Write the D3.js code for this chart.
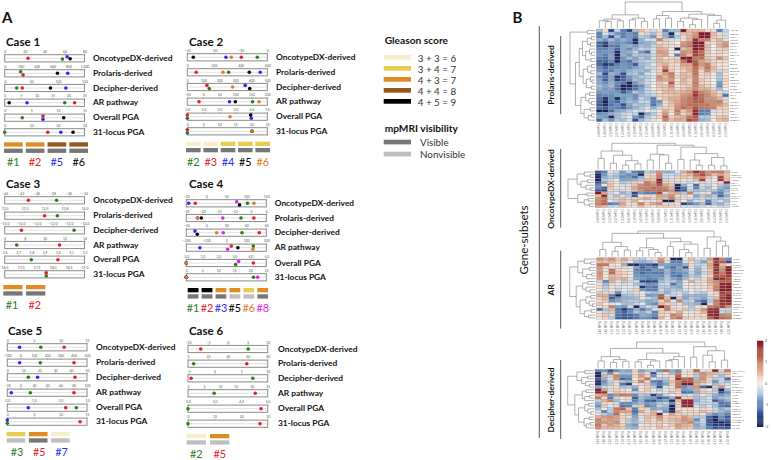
<!DOCTYPE html>
<html>
<head>
<meta charset="utf-8">
<script src="https://cdn.jsdelivr.net/npm/d3@7"></script>
<style>
body { margin: 0; background: #fff; }
text { font-family: Lato, "Open Sans", sans-serif; fill: #111; }
</style>
</head>
<body>
<script>
// ---- panel A data
var trackNames = ["OncotypeDX-derived", "Prolaris-derived", "Decipher-derived", "AR pathway", "Overall PGA", "31-locus PGA"];
var dotColors = ["#2f7a1c", "#e0202a", "#2a2af5", "#000000", "#e07b27", "#dd22e6"];

var gleasonNames = ["3 + 3 = 6", "3 + 4 = 7", "4 + 3 = 7", "4 + 4 = 8", "4 + 5 = 9"];
var gleasonColors = ["#f7efcb", "#e8cc50", "#e08c22", "#96561c", "#000000"];
var mriNames = ["Visible", "Nonvisible"];
var mriColors = ["#777777", "#bfbfbf"];

var case1Samples = ["#1", "#2", "#5", "#6"];
var case1Gleason = [2, 2, 3, 3];
var case1Mri = [0, 0, 0, 0];
var case1Ticks = [[0,20,40,60,80],[0,200,400,600,800,1000],[0,50,100,150],[0,5,10,15,20,25],[0,5,10,15],[0,10,20,30]];
var case1Values = [[57.9,200,22.6,18.8,3.3,0],[23.4,230,33,21.9,7.2,16.2],[62.6,790,115,7,7.2,21.1],[65.6,661,86,1.4,11.1,25.7]];
var case1Lanes = [[0.5,-1,0,0,0,0],[0,1,0,0,-1,0],[-1,0,0,0,1,0],[0.3,0,0,0,0,0]];

var case2Samples = ["#2", "#3", "#4", "#5", "#6"];
var case2Gleason = [0, 0, 1, 1, 1];
var case2Mri = [0, 0, 0, 0, 0];
var case2Ticks = [[-30,-20,-10,0],[0,200,400,600],[0,100,200,300,400,500],[-50,0,50,100,150,200],[0,1,2,3,4,5],[0,5,10,15,20,25]];
var case2Values = [[-3.75,310,137,154,0,0],[-9.75,67,123,-13.5,0,0],[-15.5,547,362,82,4,20.2],[-27.75,465,390,100,3.96,20.2],[-13.5,267,283,174,2.67,20.2]];
var case2Lanes = [[0,0,1,0,1,1],[0,0,-1,0,-1,-1],[0,0,-1,0,1,0],[0,0,1,0,-1,0],[0,0,0,0,0,0]];

var case3Samples = ["#1", "#2"];
var case3Gleason = [2, 2];
var case3Mri = [0, 0];
var case3Ticks = [[-44,-42,-40,-38,-36,-34],[13,13.25,13.5,13.75,14],[-15,-14,-13,-12,-11,-10],[6,8,10,12,14],[2.6,2.7,2.8,2.9,3,3.1,3.2],[16.5,17,17.5,18,18.5,19]];
var case3Values = [[-37.5,13.66,-10.65,7.2,2.8,17.8],[-41.03,13.5,-13.95,11.5,3,17.8]];
var case3Lanes = [[0,0,0,0,0,1],[0,0,0,0,0,-1]];

var case4Samples = ["#1", "#2", "#3", "#5", "#6", "#8"];
var case4Gleason = [4, 4, 2, 2, 1, 2];
var case4Mri = [0, 0, 0, 1, 1, 0];
var case4Ticks = [[-50,0,50,100,150],[-25,-20,-15,-10,-5,0],[-20,0,20,40,60],[-200,-100,0,100,200],[0,1,2,3,4,5],[0,5,10,15,20,25]];
var case4Values = [[103,-7.9,35.7,135,3.08,21],[-27.5,-3.9,53,25,4.19,0],[-44,-21.5,-11.3,-132,0,0],[83,-20.3,-9,58,0,0],[119,-21.5,10.3,133,0,0],[76,-13.6,17,6.7,3.27,22.3]];
var case4Lanes = [[0,0,0,-1,1,0],[0,0,0,-1,0,0],[0,0,-1,0,0,0],[1,0,1,0,0,0],[0,0,0,1,0,0],[-1,0,0,1,-1,0]];

var case5Samples = ["#3", "#5", "#7"];
var case5Gleason = [1, 2, 0];
var case5Mri = [1, 0, 1];
var case5Ticks = [[0,5,10,15],[-100,0,100,200,300,400,500],[0,10,20,30,40,50],[-20,0,20,40,60,80,100],[0,1,2,3],[0,5,10,15]];
var case5Values = [[6.3,148,13.2,14.7,2.6,0],[10.7,402,42.5,80.4,2.2,13.7],[2.3,-7,19,-14,0.79,0]];
var case5Lanes = [[0,0,0,0,0,1],[0,0,0,0,0,0],[0,0,0,0,0,-1]];

var case6Samples = ["#2", "#5"];
var case6Gleason = [0, 2];
var case6Mri = [1, 1];
var case6Ticks = [[-10,-5,0,5,10],[0,20,40,60,80],[-5,0,5,10],[0,5,10,15,20,25],[0,2,4,6],[0,10,20,30]];
var case6Values = [[5.1,5.7,7.2,8.2,0,0],[-6.8,59,-4.4,21.1,5.5,27.1]];
var case6Lanes = [[0,0,0,0,0,0],[0,0,0,0,0,0]];

// ---- panel B data
var colLabels = ["2.44 MP03","1.48 MP03","3.12 MP03","2.07 MP03","1.33 MP03","4.21 MP03","2.19 MP03","3.40 MP03","1.05 MP03","2.62 MP03","4.08 MP03",
  "3.27 MP03","1.71 MP03","2.36 MP03","4.52 MP03","3.09 MP03","1.16 MP03","2.85 MP03","3.58 MP03","4.13 MP03","1.94 MP03","2.30 MP03"];

var prolarisGenes = ["ASF1B","CDCA8","PLK1","MKI67","CDC20","FOXM1","KIF11","PTTG1","CDKN3","TK1","TPX2","BIRC5","CEP55","DLGAP5","RRM2","PBK","BUB1B","NUSAP1","ORC6","RAD51","KIAA0101","SKA1","PRC1","KIF20A","CENPM","TOP2A","DTL","ASPM","CENPF","RAD54L"];
var oncotypeGenes = ["KLK2","SRD5A2","FAM13C","AZGP1","GSN","GSTM2","FLNC","TPM2","BGN","COL1A1","SFRP4","TPX2","ARF1","ATP5E"];
var arGenes = ["KLK3","KLK2","FKBP5","NKX3-1","TMPRSS2","ZBTB10","NNMT","ABCC4","ACSL3","ELL2","HERC3","PMEPA1","TMEPAI","GNMT","MED28","NDRG1","STK39","C1orf116","MAF","IQGAP2","SPDEF","PTGER4"];
var decipherGenes = ["GLYATL1P4","PBX1","CAMK2N1","EPPK1","IQGAP3","LASP1","RABGAP1","PCAT32","MYBPC1","NFIB","S1PR4","TSBP","THBS2","ANO7","PCDH7","ZWILCH","UBE2C","NUSAP1","TNFRSF19","PCAT80","KCNQ1","MMP9"];

var prolarisHeat = [
[-.5,.2,-1.5,-.3,-1,-1.5,-.5,.5,.2,-.2,.2,-1,-.5,-.5,2,.5,.5,.5,.2,.2,-1,-.3],
[-1,-.2,-.5,-.8,-1,-.8,-1,.2,-.3,-.5,.2,-.6,-1.8,-.2,.5,.5,.8,2,2,.5,.2,-.2],
[-1,-.5,-1.5,-.5,-1,-.8,-1,-.4,-.5,-.8,.2,-.6,-1.2,-.4,.2,.6,.9,2,2,.4,-.2,-.2],
[-.6,-.8,-.5,-.8,-.6,-.8,-1.8,-.6,-.2,-.2,1,.4,-.2,-.2,.2,.6,1.8,1,1,.3,.6,.2],
[-1.2,-1.5,-.8,-.9,-.8,-1,-1.8,-.7,-.6,-.5,.2,.3,.2,0,.8,1,2,2,.3,.2,.5,.8],
[-1.2,-1.7,-1,-1.1,-.7,-.6,-.8,-.5,-.6,-.3,.5,.3,.2,.2,.9,1.1,1.9,1.8,.5,0,.6,.9],
[-1,-1,-.8,-1.2,-.7,-.9,-.6,-.3,-.4,-.2,.6,.5,.1,-1.9,.5,.7,2,1.8,.4,0,.3,.4],
[-.9,-.8,-.8,-1.8,-.7,-.6,-.3,-.8,-1.2,-.2,.8,.7,.1,.1,.9,.8,1.7,1.2,.4,.1,.3,.2],
[-.8,-1,-.7,-1.9,-.6,-.8,-.4,-.5,-.5,-.3,.6,.7,-.1,-1,1,.5,1.6,1.3,.3,-.1,.2,.1],
[-1,-1.1,-.7,-1.8,-.8,-.5,-.7,-.4,-.6,-.2,.5,.2,.3,.3,2,2,1.1,1.2,.4,.2,.9,.4],
[-1.2,-1.2,-.9,-1.9,-.9,-1.1,-.6,-.4,-.3,-.3,.5,.4,.3,.4,1.1,1.9,1.3,.7,.5,.3,.2,.2],
[-1.2,-1.7,-1.5,-1,-.8,-.9,-1.3,-.5,-.4,-.1,.4,.6,.2,.2,.7,.7,1.4,.8,1,.3,.1,.1],
[-.9,-1.2,-.9,-.9,-.8,-.9,-.7,-.6,-.3,-.3,.3,.9,.3,.2,.5,.6,1.2,.6,1.1,.5,.2,.1],
[-.8,-1,-1,-.7,-.8,-.6,-.5,-.5,-.6,-.2,.3,1.6,.4,.1,.3,.6,1.1,.3,.9,.4,-.3,.3],
[-.5,-1.5,-.6,-.7,-1.4,-.5,-.4,-.7,-.2,-.1,.4,.8,1.1,.2,.5,.4,1.2,.2,.4,.1,-.5,.1],
[-.9,-1.1,-.7,-1.7,-1.3,-.8,-.6,-.4,-.4,-.2,.9,.5,1,.3,.5,.5,1,.2,.3,.1,-.4,.2],
[-.7,-1.3,-.7,-1.6,-1.2,-.9,-.5,-.6,-.3,-.1,.8,.7,.8,.1,.6,.3,1,.4,.2,0,-.5,.3],
[-.7,-.9,-.6,-.9,-1.1,-1.9,-.8,-.5,-.2,-.1,.4,.2,1.4,.2,.5,.3,1.1,.3,.2,0,-.8,.2],
[-.5,-.7,-.5,-1,-1.9,-1.9,-1.2,-.9,-.4,0,.4,.4,.8,.1,.3,.4,1,.5,.3,.1,-.9,.1],
[-.6,-.8,-.7,-1.1,-1.9,-1.5,-1.1,-.7,-.3,.1,.3,.4,.6,.2,.4,.6,.9,.6,.6,.3,-.5,0],
[-.8,-.7,-.8,-.8,-1.3,-.9,-.4,-.6,-.3,-.2,.2,.5,.5,.5,.6,.7,1.6,1,.8,.5,.2,-.3],
[-1,-.9,-.9,-.7,-.7,-.7,-.9,-.5,-.4,-.3,.3,.3,.4,.5,.8,.9,1.7,1.2,.9,.6,.3,-1.1],
[-1.1,-1.7,-.9,-1.8,-.8,-.6,-.8,-.3,-.5,-1,.2,.4,.6,.6,.9,1.1,1.4,1.2,.8,.8,.5,-.2],
[-1.2,-1.9,-1,-1.2,-.7,-.5,-.6,-.3,-.3,-1,-.8,.2,.5,.7,1,1.1,1.3,1.3,.9,.9,1,.3],
[-1.3,-1.8,-1.1,-.9,-1.4,-.7,-.4,-.5,-.4,-1.1,-.6,.2,.4,.8,1,1.2,1.2,1.1,1.1,.9,.8,.5],
[-1.1,-1.3,-.9,-1,-1.2,-.8,-.6,-.4,-.2,-.6,-.3,.3,.3,.9,1.2,1,1.4,1.1,1.1,1,.4,.3],
[-1.9,-1.9,-1.2,-.7,-.6,-.4,-.2,-.3,.1,-.2,.1,.6,.3,1.1,.4,.8,1.8,-1,-1,-.2,.2,.3],
[-.9,-.8,-.6,-.5,-.3,-.2,-.3,-1.8,-.7,-.4,.2,.8,.1,.9,.3,.6,1.9,-1,-.9,-.1,.1,.2],
[-.7,-.8,-1.8,-.5,-.3,-.1,-.8,-1.2,-.4,-.2,.3,1.3,.3,.5,.6,1.1,1.4,-.4,-.4,.1,.4,.5],
[-1.2,-.5,-.8,-.4,-.5,-.2,-1.4,-.6,-.3,.2,.1,1,.5,.7,.6,1.5,1.3,-.6,-.5,.1,.5,.6]
];

var oncotypeHeat = [
[-1.3,-1,.2,-.3,-.8,-.4,-1,-1.2,-.4,-.5,.9,-.6,-.6,-.2,.7,1,1.8,1.3,.9,1,1.1,.6],
[-1.9,-.8,-.2,-.4,-.7,-.9,-.8,-1.9,.2,.2,1,-.2,-.2,-.3,.3,.5,1.1,1.6,.9,.4,.7,.3],
[-1.9,-.6,-.4,-.5,-.9,-.8,-1.2,-.6,.2,.3,1,-.2,-.1,.3,.4,.3,.8,.9,.4,-.1,1.5,.4],
[-1.9,-.4,-.3,-.1,-.7,-.7,-.6,-.4,.5,.4,1.9,-.3,-.2,.2,.2,-.2,.5,1.6,.2,-.1,1.7,.5],
[-1.4,-.7,.3,.1,-.4,-.3,.3,.2,1.1,.7,1.9,.3,.2,-.2,-.1,-.2,-.1,.3,-.1,.1,.2,2],
[-1,.1,.5,.1,-.2,.2,.4,.9,1.1,.9,1.4,.7,.4,-1.8,-.6,-.1,-1.2,-.2,-.3,.1,-.4,-.6],
[-.9,-1.2,.4,.2,-.1,-.2,.7,1,1,1.2,1.1,1,.6,-1.9,-1.1,-.2,-1,-.3,-.5,-.1,-.6,-.8],
[-1.4,-1.5,.2,-.2,-.2,.1,.5,.9,1.2,1.1,1.2,1.2,.8,-1.6,-1.3,-.3,-.5,-.4,-.3,-.4,-.8,-.5],
[2,.7,-.3,.1,-.6,-.4,-1.5,-.8,-1,-1,1.5,-.2,.6,.7,-.4,1,-.3,.2,.2,-.8,-1,-.4],
[.5,1.8,-.2,-.5,-.2,-.4,-1.3,.1,.2,.2,.7,.7,.9,.2,.3,.1,-.7,-.4,-.6,-.4,-1.2,-.6],
[.8,1.1,.2,.3,.4,.2,.3,.4,.6,.3,.5,.4,1,-.3,.1,.2,-.4,-.2,-.3,-.2,-.5,-.3],
[.9,1.2,-.1,-.3,.5,.3,.6,.1,.2,-.2,.4,-1.9,-1.8,.4,.1,-.6,-.2,.3,-1,-.4,-.2,-.5],
[1,1.3,-1,-.9,.7,.1,.2,1,.3,.7,.9,.2,.3,.1,-1.6,-1.1,-.8,-.5,-1.3,-.4,-.6,-.3],
[.7,.5,-.3,-.2,.4,.2,.1,.5,.2,.1,.3,.3,.2,.2,-.2,-.2,-.3,-.2,-.1,-.1,-.3,-.2]
];

var arHeat = [
[.9,.6,.9,.4,.7,.3,-.3,-.4,-.1,.2,.8,.2,-1.9,-1.9,.1,.5,-.2,-.3,.8,1.8,1,-.9],
[.5,.4,.6,.3,.4,.1,-.5,-.6,-.5,-.3,1,-.2,-1,-1,-.2,.3,-.4,-.7,.5,1.6,1.3,-1.4],
[1.1,1.1,.2,.1,-.6,-1.7,-1.8,-1.2,-1.3,-1.6,-.7,-.7,-.8,-.9,-.6,.2,-.3,-.3,.7,1.9,.5,.2],
[.8,.2,.1,.2,.2,-.1,-.7,-1.3,-.9,-1.1,-.2,-.8,-1.2,-.7,-1.4,-.1,-.5,.1,.6,1.6,.7,1.9],
[.7,.1,1.1,.3,.1,.1,-1,-1.1,-1.2,-.8,-.9,-.5,-.9,-.8,-.6,-.2,-.6,-.2,.4,1.8,.9,2],
[.9,.2,1.2,.4,.3,-.1,-.9,-1.2,-1,-1.1,-1,-.6,-1,-.9,-.8,-.3,-.7,-.3,.5,1.7,1.1,1.8],
[.8,.1,.5,.4,.2,.1,-.8,-.9,-.9,-.8,-.9,-.5,-1,-1.2,-.7,-.4,-.5,-.1,.3,1.4,1.3,1.7],
[.7,.2,.6,.5,.6,.2,-.7,-.8,-1,-.9,-.7,-.4,-.7,-.9,-.5,-.2,-.3,.2,.6,1.9,1.8,1.4],
[-.2,-1,.6,-.1,-.4,-.2,-.2,-1.5,-1.6,-1.5,-.5,-.3,-.4,-.7,.1,.6,.2,.2,.6,.9,1.3,1.3],
[.1,-.5,-.2,.1,-.2,-.1,-.5,-.6,-.9,-.8,-.3,-.2,-1.1,-.6,.1,.1,-.2,.1,.5,.8,1.9,1.9],
[.2,-.4,.2,-.2,.1,.1,-.2,-1.7,-1,-1.1,-.4,-.4,-.6,-.7,-.1,.2,-.1,.2,.4,1,1.9,2],
[.1,-.3,.1,-.3,-.1,-.2,.3,-.8,-1,-1,-.3,-.5,-.4,-.5,-.2,.1,-.2,.1,.3,1.1,2,2],
[.4,-.2,.3,-.9,-.2,-.3,.2,.1,-.4,-.5,-.4,-.6,-.3,-.2,-.4,-.1,-.3,-.4,.1,.3,1.6,1.4],
[.6,.6,-1,-1.9,-.5,-.4,-.3,-.1,-.8,-.7,1.3,-.2,-.3,.2,-.6,-.5,-.6,-.6,-.2,.2,1.4,1.9],
[.3,.5,-1.3,-.8,-.6,-.6,-.5,.1,-.3,-.5,1.4,.5,-1.9,-.4,-.7,-.4,-.5,-.7,-.3,.5,1.6,2],
[.2,.4,-.9,-.7,-.5,-.4,-.4,-.5,-.7,-.6,.3,.8,.2,1,-.4,-.3,-.9,-1.2,-.4,1.1,1.8,1.9],
[.4,.1,-.2,-.1,-.5,-.5,-.3,-.1,-.7,-.9,.5,.3,-.3,-.2,-.5,-.5,-.6,-1.9,-.2,1,1.7,1.7],
[.2,.3,1,-.7,-.8,-.2,-1.9,-.5,-.2,-.4,2,1,.2,.1,.2,-.4,.1,.1,1,1.2,1.5,.9],
[-1.2,-.4,.5,-1.1,-1.8,-1.1,-.6,-1.1,-.7,-.1,.2,1.1,.3,.2,.4,-.3,.3,.8,1.8,1.9,-.2,-.2],
[.1,-.3,.4,-1,-1.3,-.9,-.4,-.6,-.3,-1,.3,.3,.2,.6,-.1,-.1,.2,.6,1.8,1.9,-.3,-.4],
[.2,.4,-.2,-1.1,-1.3,-1.2,-1,-.6,-.7,-.9,.3,.2,1,.8,.1,.1,.2,.2,1.8,1.9,1,.9],
[.1,.3,-.4,-1.2,-1.4,-1.3,-1.1,-.8,-.9,-1.2,.6,.1,.9,1.2,.4,.3,.2,.3,1.3,1.8,1.2,1.1]
];

var decipherHeat = [
[-1,-.8,-1.4,-.9,-.6,-.7,.3,-.7,-.5,-.4,-.8,1.2,-.6,-.9,.1,.2,1.3,-.1,.2,1.9,.3,1.1],
[-1.9,-.3,-.9,.3,-.5,-.5,.2,.6,.2,-1.4,-.2,-.1,-.5,1,.1,.1,.5,.9,.6,.5,-.3,.4],
[-1.9,.6,.4,1,-.8,-.8,.3,.8,.3,-.9,-.1,.2,.2,1.3,.1,.2,-.4,.8,.5,-.2,-.5,.3],
[-1.3,-.6,-.2,.9,-1.2,-1,.1,.5,1.1,-.2,-.4,-.4,.2,1.8,1.2,1.3,-.5,.9,.3,-.4,-.3,-1.2],
[-1.9,-.9,-.3,.2,-.4,-.6,.3,1,.2,-1,-1.2,-.5,.4,1,1.5,1.4,.7,.6,.2,-.9,-.2,-.5],
[-1.8,-.7,-.4,.1,-1.1,-1.7,.1,.3,.4,-.7,-1.1,-.7,.3,1.1,2,2,.6,.3,.1,-.5,-.3,-.2],
[-.7,-.3,.2,.2,-.5,-.4,-.6,-.1,.3,-.4,-1.4,-.2,.2,1.2,-.9,-.6,.8,-1.2,-1.7,.4,.8,.1],
[2,.7,-.2,.3,.2,.1,-.9,.1,.4,.1,-.4,-.1,-.2,.4,-.8,-.7,.7,.3,.1,-.4,-1.9,-.5],
[1.9,1.7,.1,.4,.3,.2,-.3,.3,.2,-.1,.1,.1,.4,.2,-1.2,-1.1,-.6,.4,.3,-.3,-1.4,-.9],
[.6,.8,-.9,.9,1.1,1,-.9,-.4,-.5,-1.6,-.8,-.3,-.1,.2,-.3,-.2,-.4,.1,-.3,-.6,-.8,-.6],
[1.1,.3,-1,-.3,-.1,.3,-1.3,-.5,-.7,-.8,-1.4,-1.1,-.6,1.8,.3,.4,-.5,-.4,-.2,-.7,-.5,-.4],
[-.3,.6,1,-.5,.1,-.2,-1,-.6,-1.2,-1.3,-.9,-.7,-1.8,.5,1.9,1.9,-.6,-.3,-.2,-1.3,-.9,-.6],
[-.6,.2,.1,-.2,-.9,-.9,-.7,-.5,-.8,-.7,-.4,-.3,-.9,.2,2,2,-.3,-.3,-.3,-.4,-1.1,-1],
[-.8,.4,-.1,.3,-1.1,-1,-.3,.4,-1,-.8,-.3,-.5,-1.9,.3,1.8,1.9,-.2,-.4,-.2,-.5,-1,-1.2],
[-.5,.1,-.4,1.1,1.3,.4,-1,.3,.3,-.7,-.6,-.7,-1.9,.2,.2,.2,.1,.3,.2,-.3,-.6,-.4],
[-.1,-1,-.3,1,.7,.7,-1.2,.7,.1,.5,-.1,-.9,-1.9,.5,.1,.2,.2,.5,.3,-.3,-.5,-.7],
[.2,-.4,-.6,1.2,.2,.4,-.9,.2,.3,.6,2,.1,.7,.3,.3,.2,.3,.1,-.6,-.9,-.7,-1],
[.6,.8,.9,.7,.3,.2,-.7,-.2,.5,.4,.9,.3,.4,.4,.8,.5,-.4,-.4,-1.2,-1.7,-.9,-1.3],
[1,.6,.8,.7,.2,-.4,-.6,-.1,.4,.2,.7,.3,.5,.6,.9,.7,-.9,-.3,-1.3,-1.9,-1,-1.2],
[.9,.8,.7,.9,.1,-.3,-.5,-.2,.3,.2,.3,.2,.3,.5,.7,.9,-.5,-.2,-1.4,-1.8,-1.9,-1.6],
[1.1,.4,.8,.6,.3,-.6,-.8,.1,.2,.2,.4,.1,.4,.8,.6,.5,-.7,-.4,-1.2,-1.6,-1.5,-1.8],
[.9,.5,.6,.5,.4,-.5,-.6,.2,.3,.1,.5,.3,.2,.7,.5,.4,-.6,-.5,-1,-1.3,-1.2,-1.3]
];

// dendrograms: [merge height, left, right], 0 is a leaf
var prolarisTop = [79,
  [40,[27,[22,0,[20,0,0]],[22,0,0]],[30,[25,0,0],[20,0,0]]],
  [50,[38,[28,0,0],[30,0,0]],[42,[30,[20,0,0],[26,[10,0,0],0]],[38,0,[24,[14,0,0],0]]]]];
var prolarisSide = [79,[25,0,0],[62,
  [50,[40,[25,[12,0,0],[15,0,0]],[30,[18,0,[12,0,0]],[14,0,0]]],[38,[24,[12,0,0],[14,0,0]],[28,[15,0,[10,0,0]],[12,0,0]]]],
  [45,[30,[18,0,0],[20,0,[12,0,0]]],[35,[16,0,0],[22,[12,0,0],0]]]]];
var oncotypeTop = [82,
  [58,[35,0,0],[45,[20,0,0],[28,[14,0,0],[18,0,0]]]],
  [76,[48,[30,0,0],[46,0,[20,0,0]]],[70,[32,0,0],[50,[30,0,[14,0,0]],[38,[14,0,0],[12,0,0]]]]]];
var oncotypeSide = [80,
  [52,[30,0,[12,0,0]],[40,[20,0,0],[25,0,[10,0,0]]]],
  [50,[22,0,0],[30,[18,0,0],[14,0,0]]]];
var arTop = [86,
  [78,[48,[24,0,0],[34,[18,0,0],[22,0,0]]],[62,[30,[20,0,0],[24,0,[14,0,0]]],[50,[34,0,0],[42,[24,0,[14,0,0]],0]]]],
  [66,[28,0,0],[52,0,[36,0,0]]]];
var arSide = [80,
  [55,[35,0,[15,0,0]],[40,[20,0,0],[28,[12,0,0],0]]],
  [60,[40,[25,0,0],[30,0,[18,0,0]]],[48,[30,[15,0,0],[20,0,[10,0,0]]],[35,[14,0,0],[22,0,0]]]]];
var decipherTop = [90,
  [68,[40,[25,0,0],[30,[20,0,0],[24,0,0]]],[52,[30,[22,0,0],[25,[10,0,0],0]],[40,[30,[26,0,0],0],0]]],
  [74,[38,0,0],[60,[45,0,[22,0,0]],[28,0,0]]]];
var decipherSide = [85,
  [55,[30,0,0],[40,[20,0,0],[28,0,[15,0,0]]]],
  [62,[38,[25,0,0],[30,[14,0,0],0]],[50,[30,[18,0,0],[20,0,[10,0,0]]],[32,[16,0,0],[25,[12,0,0],0]]]]];

var colorTicks = [2, 1, 0, -1, -2];

// ---- page
var w = 772, h = 460;
var svg = d3.select("body").append("svg").attr("width", w).attr("height", h);
var heatColor = d3.scaleLinear()
    .domain([-2, -1.4, -.8, -.3, 0, .3, .8, 1.4, 2])
    .range(["#15174f", "#2f4f96", "#6e98c6", "#c3d6e8", "#f4f1ee", "#f2d1bd", "#d99677", "#b5523f", "#8b1528"])
    .clamp(true);

function addText(x, y, str, size, weight, anchor) {
  return svg.append("text").attr("x", x).attr("y", y).attr("dy", "0.35em")
    .attr("font-size", size).attr("font-weight", weight || 400)
    .attr("text-anchor", anchor || "start").text(str);
}

// one case of panel A
function drawCase(title, pos, samples, ticks, values, lanes, gleason, mri) {
  addText(pos.titleX, pos.titleY, title, 11.5, 700);
  ticks.forEach(function(tk, i) {
    var x = d3.scaleLinear().domain(d3.extent(tk)).range([pos.x0, pos.x1]);
    var cy = pos.rows[i];
    var g = svg.append("g").attr("transform", "translate(0," + cy + ")");
    g.append("rect").attr("x", pos.x0).attr("y", -3.6).attr("width", pos.x1 - pos.x0).attr("height", 7.2)
      .attr("fill", "#fff").attr("stroke", "#8a8a8a").attr("stroke-width", 1);
    g.append("line").attr("x1", pos.x0).attr("x2", pos.x1).attr("stroke", "#cfcfcf").attr("stroke-width", 0.6);
    var axis = d3.axisTop(x).tickValues(tk).tickSize(1.2).tickPadding(0.5);
    if (tk.some(function(v) { return v % 1 != 0; })) axis.tickFormat(d3.format(".1f"));
    var ag = g.append("g").attr("transform", "translate(0,-3.6)").call(axis);
    ag.select(".domain").remove();
    ag.selectAll("line").attr("stroke", "#666").attr("stroke-width", 0.4);
    ag.selectAll("text").attr("font-size", 3.4).style("fill", "#555").attr("font-family", "Lato, sans-serif");
    samples.forEach(function(s, j) {
      g.append("circle").attr("cx", x(values[j][i])).attr("cy", lanes[j][i] * 1.6).attr("r", 1.8)
        .attr("fill", dotColors[j]);
    });
    addText(pos.labelX, cy - 0.2, trackNames[i], 8.4, 700);
  });
  var band = d3.scaleBand().domain(samples)
    .range([pos.barX, pos.barX + pos.barStep * samples.length])
    .paddingInner(1 - pos.barW / pos.barStep).paddingOuter(0).align(0);
  samples.forEach(function(s, j) {
    svg.append("rect").attr("x", band(s)).attr("y", pos.barY).attr("width", band.bandwidth()).attr("height", 4.3)
      .attr("fill", gleasonColors[gleason[j]]);
    svg.append("rect").attr("x", band(s)).attr("y", pos.barY + 6.3).attr("width", band.bandwidth()).attr("height", 4.3)
      .attr("fill", mriColors[mri[j]]);
    addText(band(s) + band.bandwidth() / 2 + pos.labelShift, pos.numY, s, 10.8, 400, "middle")
      .style("fill", dotColors[j]);
  });
}

drawCase("Case 1", {titleX: 6, titleY: 42, x0: 4.7, x1: 84.5, rows: [58.3, 73.3, 88, 102.7, 117.7, 132.3], labelX: 93,
  barX: 4, barStep: 21, barW: 18, barY: 142.3, numY: 162.7, labelShift: 0}, case1Samples, case1Ticks, case1Values, case1Lanes, case1Gleason, case1Mri);
drawCase("Case 2", {titleX: 189, titleY: 42, x0: 187.3, x1: 267.3, rows: [57.3, 72.3, 87, 101.7, 116.7, 131.3], labelX: 276,
  barX: 186, barStep: 16.8, barW: 14.2, barY: 141.7, numY: 162, labelShift: 0}, case2Samples, case2Ticks, case2Values, case2Lanes, case2Gleason, case2Mri);
drawCase("Case 3", {titleX: 6, titleY: 184, x0: 4.7, x1: 84.5, rows: [200.3, 215.7, 230.3, 245, 259.7, 274.3], labelX: 93.3,
  barX: 3.3, barStep: 21, barW: 17.7, barY: 285, numY: 305.7, labelShift: -1}, case3Samples, case3Ticks, case3Values, case3Lanes, case3Gleason, case3Mri);
drawCase("Case 4", {titleX: 189, titleY: 184, x0: 186.3, x1: 266.3, rows: [203.3, 218, 232.7, 247.7, 263, 277.3], labelX: 274.7,
  barX: 187.7, barStep: 13.4, barW: 10.4, barY: 288, numY: 308, labelShift: 0}, case4Samples, case4Ticks, case4Values, case4Lanes, case4Gleason, case4Mri);
drawCase("Case 5", {titleX: 8, titleY: 331, x0: 7.3, x1: 87, rows: [347.3, 362.7, 377.3, 392.7, 407.7, 421.7], labelX: 96,
  barX: 6.7, barStep: 21, barW: 17.6, barY: 432, numY: 452.3, labelShift: 1}, case5Samples, case5Ticks, case5Values, case5Lanes, case5Gleason, case5Mri);
drawCase("Case 6", {titleX: 189, titleY: 331, x0: 188, x1: 267.7, rows: [349, 363.7, 378.3, 393.3, 408.7, 423.7], labelX: 278,
  barX: 186.7, barStep: 21.3, barW: 17.6, barY: 434, numY: 454.3, labelShift: 0}, case6Samples, case6Ticks, case6Values, case6Lanes, case6Gleason, case6Mri);

addText(2, 18, "A", 15, 700);
addText(512.5, 17.5, "B", 15, 700);

// legends
addText(384.7, 40.7, "Gleason score", 10.2, 700);
gleasonNames.forEach(function(n, i) {
  svg.append("rect").attr("x", 383.7).attr("y", 55 + i * 11).attr("width", 27.3).attr("height", 4.7).attr("fill", gleasonColors[i]);
  addText(417.7, 58.7 + i * 11, n, 9.8).style("fill", "#333");
});
addText(384.7, 128.7, "mpMRI visibility", 10.2, 700);
mriNames.forEach(function(n, i) {
  svg.append("rect").attr("x", 383.7).attr("y", 139.7 + i * 12).attr("width", 27.3).attr("height", 4.7).attr("fill", mriColors[i]);
  addText(420, 142.3 + i * 12.4, n, 9.8).style("fill", "#333");
});

// one heatmap of panel B
function dendro(tree, posScale, hScale, vertical) {
  var root = d3.hierarchy(tree, function(d) { return Array.isArray(d) ? d.slice(1) : null; });
  root.leaves().forEach(function(l, i) { l.pos = i + 0.5; });
  root.eachAfter(function(n) {
    n.h = Array.isArray(n.data) ? n.data[0] : 0;
    if (n.children) n.pos = d3.mean(n.children, function(c) { return c.pos; });
  });
  hScale.domain([0, root.h]);
  var pt = function(p, ht) {
    return vertical ? posScale(p) + "," + hScale(ht) : hScale(ht) + "," + posScale(p);
  };
  svg.append("g").selectAll("path").data(root.links()).enter().append("path")
    .attr("fill", "none").attr("stroke", "#7a7a7a").attr("stroke-width", 0.6)
    .attr("d", function(l) {
      return "M" + pt(l.source.pos, l.source.h) + "L" + pt(l.target.pos, l.source.h) + "L" + pt(l.target.pos, l.target.h);
    });
}

function drawHeat(rows, genes, topTree, sideTree, box) {
  var x = d3.scaleBand().domain(d3.range(rows[0].length)).range([box.x0, box.x1]);
  var y = d3.scaleBand().domain(d3.range(rows.length)).range([box.y0, box.y1]);
  var g = svg.append("g");
  rows.forEach(function(row, r) {
    g.selectAll("rect.r" + r).data(row).enter().append("rect").attr("class", "r" + r)
      .attr("x", function(d, c) { return x(c); }).attr("y", y(r))
      .attr("width", x.bandwidth()).attr("height", y.bandwidth())
      .attr("fill", function(d) { return heatColor(d); })
      .attr("stroke", "#949494").attr("stroke-width", 0.3);
  });
  genes.forEach(function(n, r) {
    svg.append("text").attr("x", box.x1 + 1.2).attr("y", y(r) + y.bandwidth() / 2).attr("dy", "0.35em")
      .attr("font-size", 2.6).style("fill", "#555").text(n);
  });
  colLabels.forEach(function(n, c) {
    svg.append("text").attr("text-anchor", "end").attr("dy", "0.35em")
      .attr("transform", "translate(" + (x(c) + x.bandwidth() / 2) + "," + (box.y1 + 1.5) + ") rotate(-90)")
      .attr("font-size", 2.8).style("fill", "#666").text(n);
  });
  var colPos = d3.scaleLinear().domain([0, rows[0].length]).range([box.x0, box.x1]);
  var rowPos = d3.scaleLinear().domain([0, rows.length]).range([box.y0, box.y1]);
  dendro(topTree, colPos, d3.scaleLinear().range([box.y0 - 1, box.topY]), true);
  dendro(sideTree, rowPos, d3.scaleLinear().range([box.x0 - 1, box.sideX]), false);
}

drawHeat(prolarisHeat, prolarisGenes, prolarisTop, prolarisSide, {x0: 596.3, x1: 728.7, y0: 29, y1: 121.7, topY: 2, sideX: 570});
drawHeat(oncotypeHeat, oncotypeGenes, oncotypeTop, oncotypeSide, {x0: 595, x1: 730, y0: 170.7, y1: 207.7, topY: 143.3, sideX: 568});
drawHeat(arHeat, arGenes, arTop, arSide, {x0: 596.7, x1: 731.7, y0: 257.7, y1: 319.3, topY: 231, sideX: 569.7});
drawHeat(decipherHeat, decipherGenes, decipherTop, decipherSide, {x0: 595, x1: 730.7, y0: 369.3, y1: 429.3, topY: 342, sideX: 567.7});

// group brackets and side titles
var groups = [["Prolaris-derived", 75, 36, 114.3], ["OncotypeDX-derived", 189, 149, 227.7], ["AR", 290, 250.7, 328.7], ["Decipher-derived", 400, 360, 439]];
groups.forEach(function(d) {
  svg.append("text").attr("text-anchor", "middle").attr("dy", "0.35em")
    .attr("transform", "translate(550.7," + d[1] + ") rotate(-90)")
    .attr("font-size", 8.4).attr("font-weight", 700).text(d[0]);
  svg.append("line").attr("x1", 560.7).attr("x2", 560.7).attr("y1", d[2]).attr("y2", d[3]).attr("stroke", "#444").attr("stroke-width", 0.9);
});
svg.append("line").attr("x1", 539.3).attr("x2", 539.3).attr("y1", 26).attr("y2", 438).attr("stroke", "#444").attr("stroke-width", 0.9);
svg.append("text").attr("text-anchor", "middle").attr("dy", "0.35em")
  .attr("transform", "translate(524,240) rotate(-90)").attr("font-size", 11.5).text("Gene-subsets");

// colour bar
var barY = d3.scaleLinear().domain([2, -2]).range([340.7, 426.7]);
svg.append("g").selectAll("rect").data(d3.range(-2, 2, 0.05)).enter().append("rect")
  .attr("x", 757).attr("width", 6.3).attr("y", function(d) { return barY(d + 0.05); }).attr("height", barY(0) - barY(0.05) + 0.3)
  .attr("fill", function(d) { return heatColor(d + 0.025); });
colorTicks.forEach(function(t) {
  svg.append("text").attr("x", 765).attr("y", barY(t)).attr("dy", "0.35em").attr("font-size", 3.6).style("fill", "#555").text(t);
});
</script>
</body>
</html>
